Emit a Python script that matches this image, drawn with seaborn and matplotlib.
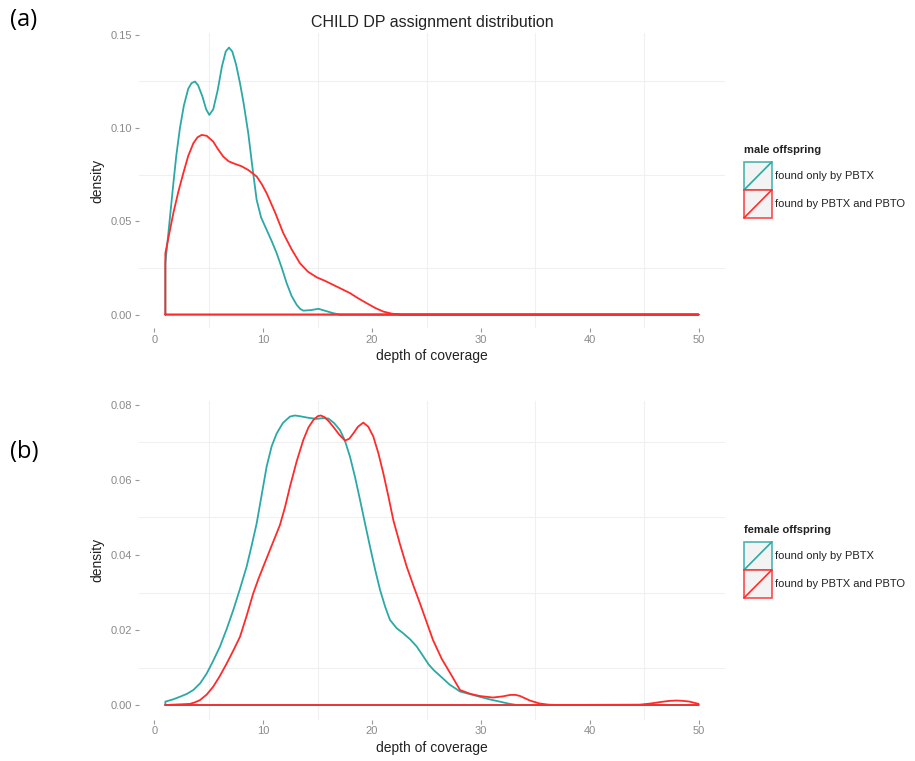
import numpy as np
import pandas as pd
import matplotlib
matplotlib.use("Agg")
import matplotlib.pyplot as plt
import seaborn as sns
from matplotlib.legend_handler import HandlerBase
from matplotlib.patches import Rectangle
from matplotlib.lines import Line2D

# ---------------- data ----------------
groups = ["found only by PBTX", "found by PBTX and PBTO"]
colors = ["#2aa9a6", "#ff2a2a"]

# panel (a): male offspring
male_only_x = [1.0, 1.3, 1.73, 2.0, 2.34, 2.7, 3.1, 3.4, 3.72, 4.0, 4.4, 4.75, 5.04, 5.4, 5.8,
               6.2, 6.55, 6.85, 7.15, 7.5, 7.86, 8.2, 8.62, 9.0, 9.39, 9.8, 10.31, 10.8, 11.23,
               11.7, 12.15, 12.6, 13.07, 13.4, 13.68, 14.4, 15.06, 15.7, 16.4, 17.0, 50.0]
male_only_d = [0.0275, 0.045, 0.070, 0.085, 0.100, 0.112, 0.121, 0.124, 0.1249, 0.123, 0.117,
               0.110, 0.107, 0.110, 0.120, 0.133, 0.141, 0.1431, 0.141, 0.134, 0.124, 0.113,
               0.0972, 0.079, 0.0615, 0.052, 0.0454, 0.039, 0.0329, 0.025, 0.0168, 0.010,
               0.0052, 0.003, 0.0021, 0.0024, 0.0031, 0.002, 0.0008, 0.0, 0.0]
male_both_x = [1.0, 1.73, 2.2, 2.65, 3.1, 3.57, 3.95, 4.34, 4.8, 5.4, 5.85, 6.32, 6.8, 7.24, 8.0,
               8.62, 9.39, 9.85, 10.31, 11.1, 11.84, 12.6, 13.37, 14.1, 14.9, 15.7, 16.43, 17.2,
               17.97, 18.7, 19.5, 20.3, 21.03, 21.8, 22.6, 50.0]
male_both_d = [0.0329, 0.0543, 0.066, 0.0758, 0.085, 0.0918, 0.0950, 0.0963, 0.0958, 0.0927,
               0.0885, 0.0847, 0.0822, 0.0811, 0.0795, 0.0775, 0.0740, 0.0700, 0.0650, 0.0545,
               0.0436, 0.0350, 0.0275, 0.0230, 0.0200, 0.0180, 0.0159, 0.0137, 0.0115, 0.0088,
               0.0061, 0.0035, 0.0016, 0.0005, 0.0, 0.0]

# panel (b): female offspring
female_only_x = [1.0, 1.7, 2.34, 3.0, 3.57, 4.2, 4.8, 5.4, 6.02, 6.64, 7.24, 7.86, 8.47, 8.93,
                 9.39, 9.85, 10.31, 10.77, 11.23, 11.8, 12.45, 12.9, 13.37, 14.1, 14.9, 15.5,
                 15.97, 16.5, 17.05, 17.5, 17.97, 18.43, 18.89, 19.35, 19.81, 20.27, 20.73, 21.2,
                 21.64, 22.25, 22.87, 23.5, 24.1, 24.7, 25.2, 25.7, 26.24, 27.1, 28.08, 29.0,
                 29.9, 30.8, 31.75, 32.5, 33.3, 50.0]
female_only_d = [0.0009, 0.0015, 0.0022, 0.0030, 0.0040, 0.0058, 0.0084, 0.0118, 0.0156, 0.0203,
                 0.0253, 0.0310, 0.0369, 0.0425, 0.0484, 0.0560, 0.0636, 0.0690, 0.0724, 0.0752,
                 0.0769, 0.0772, 0.0770, 0.0766, 0.0763, 0.0765, 0.0764, 0.0752, 0.0733, 0.0705,
                 0.0662, 0.0608, 0.0547, 0.0484, 0.0422, 0.0362, 0.0307, 0.0262, 0.0227, 0.0205,
                 0.0191, 0.0175, 0.0156, 0.0130, 0.0108, 0.0092, 0.0078, 0.0055, 0.0036, 0.0029,
                 0.0022, 0.0015, 0.0009, 0.0004, 0.0, 0.0]
female_both_x = [1.0, 3.26, 3.7, 4.18, 4.8, 5.4, 6.0, 6.64, 7.24, 7.86, 8.47, 9.08, 9.55, 10.0,
                 10.77, 11.53, 12.0, 12.45, 13.07, 13.68, 14.15, 14.6, 15.0, 15.27, 15.6, 16.0,
                 16.43, 16.95, 17.51, 17.9, 18.27, 18.7, 19.19, 19.65, 20.11, 20.57, 21.03, 21.5,
                 21.95, 22.55, 23.18, 23.8, 24.4, 25.0, 25.6, 26.4, 27.2, 28.08, 29.0, 29.9, 31.1,
                 32.0, 32.7, 33.2, 33.6, 34.5, 35.4, 36.2, 37.0, 44.6, 45.6, 46.5, 47.3, 48.0,
                 48.6, 49.2, 50.0]
female_both_d = [0.0, 0.0003, 0.0007, 0.0013, 0.0028, 0.0049, 0.0077, 0.0111, 0.0145, 0.0182,
                 0.0238, 0.0298, 0.0336, 0.0369, 0.0425, 0.0480, 0.0528, 0.0582, 0.0650, 0.0707,
                 0.0740, 0.0760, 0.0770, 0.0772, 0.0768, 0.0757, 0.0742, 0.0722, 0.0705, 0.0710,
                 0.0724, 0.0742, 0.0753, 0.0742, 0.0716, 0.0672, 0.0618, 0.0556, 0.0493, 0.0430,
                 0.0369, 0.0318, 0.0271, 0.0222, 0.0173, 0.0123, 0.0084, 0.0040, 0.0030, 0.0024,
                 0.0020, 0.0023, 0.0027, 0.0027, 0.0024, 0.0012, 0.0004, 0.0001, 0.0, 0.0001,
                 0.0004, 0.0008, 0.0011, 0.0012, 0.0011, 0.0009, 0.0003]

x_ticks = [0, 10, 20, 30, 40, 50]
a_yticks = [0.00, 0.05, 0.10, 0.15]
b_yticks = [0.00, 0.02, 0.04, 0.06, 0.08]


def closed(xs, ds, grp):
    # geom_density style closed outline (curve + baseline)
    x = [xs[0]] + list(xs) + [xs[-1], xs[0]]
    d = [0.0] + list(ds) + [0.0, 0.0]
    return pd.DataFrame({"x": x, "density": d, "group": grp})


class DensityKey(HandlerBase):
    def create_artists(self, legend, orig_handle, xdescent, ydescent, width, height, fontsize, trans):
        c = orig_handle.get_color()
        r = Rectangle((-xdescent, -ydescent), width, height, facecolor="#f2f2f2",
                      edgecolor=c, lw=1.2, alpha=0.85, transform=trans)
        l = Line2D([-xdescent, -xdescent + width], [-ydescent, -ydescent + height],
                   color=c, lw=1.2, transform=trans)
        return [r, l]


sns.set_theme(style="white")
plt.rcParams["font.family"] = ["Liberation Sans", "DejaVu Sans"]

fig = plt.figure(figsize=(9.15, 7.61), dpi=100)
ax_a = fig.add_axes([138.7 / 915, 1 - 328 / 761, (725.2 - 138.7) / 915, (328 - 33.4) / 761])
ax_b = fig.add_axes([138.7 / 915, 1 - 719.5 / 761, (725.2 - 138.7) / 915, (719.5 - 401) / 761])

panels = [
    (ax_a, [(male_only_x, male_only_d), (male_both_x, male_both_d)], a_yticks, (-0.0072, 0.1507),
     0.025, "male offspring", 145),
    (ax_b, [(female_only_x, female_only_d), (female_both_x, female_both_d)], b_yticks,
     (-0.00386, 0.08106), 0.01, "female offspring", 525),
]

for ax, series, yt, ylim, yminor, legtitle, legy in panels:
    df = pd.concat([closed(xs, ds, g) for (xs, ds), g in zip(series, groups)], ignore_index=True)
    sns.lineplot(data=df, x="x", y="density", hue="group", hue_order=groups,
                 palette=dict(zip(groups, colors)), sort=False, estimator=None,
                 lw=1.3, legend=False, ax=ax)
    ax.set_xlim(-1.45, 52.45)
    ax.set_ylim(*ylim)
    ax.set_xticks(x_ticks)
    ax.set_yticks(yt)
    ax.set_yticklabels([f"{v:.2f}" for v in yt])
    ax.grid(False)
    for v in np.arange(5, 50, 10):
        ax.axvline(v, color="#f0f0f0", lw=0.8, zorder=0)
    for v in np.arange(yminor, ylim[1], 2 * yminor):
        ax.axhline(v, color="#f0f0f0", lw=0.8, zorder=0)
    for s in ax.spines.values():
        s.set_visible(False)
    ax.tick_params(axis="both", which="major", direction="out", length=3, width=0.8,
                   color="#999999", labelcolor="#8a8a8a", labelsize=8, pad=2,
                   bottom=True, left=True)
    ax.set_xlabel("depth of coverage", fontsize=10, color="#222222", labelpad=3)
    ax.set_ylabel("density", fontsize=10, color="#222222", labelpad=4)

    handles = [Line2D([], [], color=c) for c in colors]
    leg = fig.legend(handles, groups, title=legtitle, loc="upper left",
                     bbox_to_anchor=(744 / 915, 1 - legy / 761), frameon=False,
                     handler_map={Line2D: DensityKey()}, fontsize=8, title_fontsize=8,
                     handlelength=2.5, handleheight=3.5, labelspacing=0.0,
                     handletextpad=0.3, borderpad=0, borderaxespad=0, alignment="left")
    leg._legend_box.sep = 5
    leg.get_title().set_fontweight("bold")
    leg.get_title().set_color("#222222")
    for t in leg.get_texts():
        t.set_color("#222222")

fig.text((138.7 + 725.2) / 2 / 915, 1 - 22 / 761, "CHILD DP assignment distribution",
         ha="center", va="center", fontsize=11.5, color="#222222")
fig.text(10 / 915, 1 - 20 / 761, "(a)", ha="left", va="center", fontsize=17,
         family=["Open Sans", "DejaVu Sans"], color="black")
fig.text(10 / 915, 1 - 452 / 761, "(b)", ha="left", va="center", fontsize=17,
         family=["Open Sans", "DejaVu Sans"], color="black")

fig.savefig("out.png", dpi=100, facecolor="white")
